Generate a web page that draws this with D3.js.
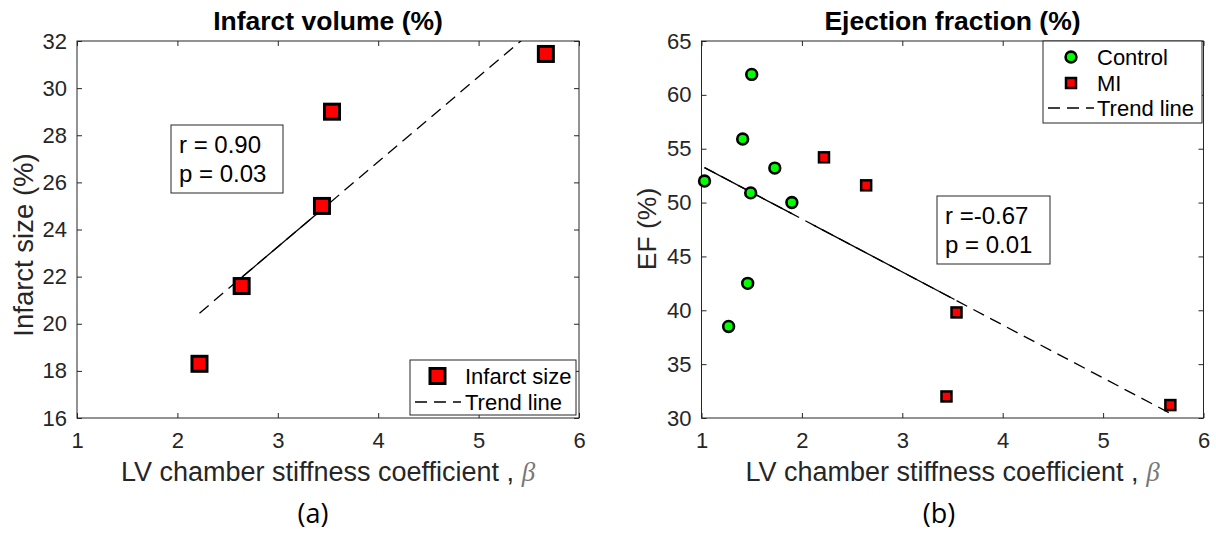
<!DOCTYPE html>
<html>
<head>
<meta charset="utf-8">
<script src="https://cdn.jsdelivr.net/npm/d3@7"></script>
<style>
  body { margin: 0; background: #fff; }
  svg { display: block; font-family: "Liberation Sans", Arial, sans-serif; }
</style>
</head>
<body>
<div id="chart"></div>
<script>
// values
const betaMI = [2.22, 2.64, 3.44, 3.54, 5.67];
const infarctMI = [18.3, 21.6, 25.0, 29.0, 31.45];
const efMI = [54.2, 51.6, 32.0, 39.8, 31.2];

const betaControl = [1.03, 1.27, 1.41, 1.46, 1.49, 1.50, 1.73, 1.90];
const efControl = [52.0, 38.5, 55.9, 42.5, 50.9, 61.9, 53.2, 50.0];

// trend line end points
const infarctTrendX = [2.22, 5.67];
const infarctTrendY = [20.45, 32.9];
const efTrendX = [1.03, 5.67];
const efTrendY = [53.25, 30.42];

// parts of the trend lines that print as solid in the original
const infarctSolid = [[2.58, 3.44]];
const efSolid = [[1.03, 1.9], [2.12, 3.52]];

const xTicks = [1, 2, 3, 4, 5, 6];
const infarctTicks = [16, 18, 20, 22, 24, 26, 28, 30, 32];
const efTicks = [30, 35, 40, 45, 50, 55, 60, 65];

const width = 1216, height = 537;
const axisColor = "#262626";
const dash = "12,7";

const svg = d3.select("#chart").append("svg")
    .attr("width", width)
    .attr("height", height);

svg.append("rect").attr("width", width).attr("height", height).attr("fill", "#fff");

function drawPanel(opt) {
    const x = d3.scaleLinear().domain([1, 6]).range([opt.left, opt.right]);
    const y = d3.scaleLinear().domain(opt.yDomain).range([418, 41]);
    const g = svg.append("g");

    // clip for lines
    svg.append("defs").append("clipPath").attr("id", opt.id + "-clip")
        .append("rect")
        .attr("x", opt.left).attr("y", 41)
        .attr("width", opt.right - opt.left).attr("height", 377);

    // box
    g.append("rect")
        .attr("x", opt.left).attr("y", 41)
        .attr("width", opt.right - opt.left).attr("height", 377)
        .attr("fill", "none").attr("stroke", axisColor).attr("stroke-width", 1);

    // axes, ticks pointing inward
    const bottom = g.append("g").attr("transform", `translate(0,418)`)
        .call(d3.axisBottom(x).tickValues(xTicks).tickSize(-5).tickPadding(14).tickFormat(d3.format("d")));
    const top = g.append("g").attr("transform", `translate(0,41)`)
        .call(d3.axisTop(x).tickValues(xTicks).tickSize(-5).tickFormat(""));
    const leftAx = g.append("g").attr("transform", `translate(${opt.left},0)`)
        .call(d3.axisLeft(y).tickValues(opt.yTicks).tickSize(-5).tickPadding(10).tickFormat(d3.format("d")));
    const rightAx = g.append("g").attr("transform", `translate(${opt.right},0)`)
        .call(d3.axisRight(y).tickValues(opt.yTicks).tickSize(-5).tickFormat(""));
    [bottom, top, leftAx, rightAx].forEach(a => {
        a.select(".domain").remove();
        a.selectAll("line").attr("stroke", axisColor);
        a.selectAll("text").attr("fill", axisColor)
            .attr("font-size", "22px")
            .attr("font-family", "Liberation Sans, Arial, sans-serif");
    });

    // title
    g.append("text")
        .attr("x", (opt.left + opt.right) / 2).attr("y", 30)
        .attr("text-anchor", "middle")
        .attr("font-weight", "bold").attr("font-size", "26.5px")
        .attr("fill", "#000")
        .text(opt.title);

    // x label
    const xl = g.append("text")
        .attr("x", (opt.left + opt.right) / 2).attr("y", 481)
        .attr("text-anchor", "middle")
        .attr("font-size", "27px").attr("fill", axisColor);
    xl.append("tspan").text("LV chamber stiffness coefficient , ");
    xl.append("tspan").attr("font-family", "Liberation Serif, serif")
        .attr("font-style", "italic").attr("fill", "#777").text("β");

    // y label
    g.append("text")
        .attr("transform", `translate(${opt.ylabelX},${opt.ylabelY}) rotate(-90)`)
        .attr("text-anchor", "middle")
        .attr("font-size", opt.ylabelSize).attr("fill", axisColor)
        .text(opt.ylabel);

    // panel tag
    g.append("text")
        .attr("x", opt.tagX).attr("y", 523)
        .attr("text-anchor", "middle")
        .attr("font-family", "Open Sans, sans-serif")
        .attr("font-size", "27px").attr("fill", "#000")
        .text(opt.tag);

    // trend line
    const line = d3.line().x(d => x(d[0])).y(d => y(d[1]));
    const trendPts = d3.zip(opt.trendX, opt.trendY);
    const lines = g.append("g").attr("clip-path", `url(#${opt.id}-clip)`);
    lines.append("path")
        .attr("d", line(trendPts))
        .attr("fill", "none").attr("stroke", "#000")
        .attr("stroke-width", 1.3).attr("stroke-dasharray", dash);
    const slope = (opt.trendY[1] - opt.trendY[0]) / (opt.trendX[1] - opt.trendX[0]);
    const at = v => opt.trendY[0] + slope * (v - opt.trendX[0]);
    opt.solid.forEach(s => {
        lines.append("path")
            .attr("d", line([[s[0], at(s[0])], [s[1], at(s[1])]]))
            .attr("fill", "none").attr("stroke", "#000").attr("stroke-width", 1.3);
    });

    // annotation box
    const ann = g.append("g");
    ann.append("rect")
        .attr("x", opt.ann.x).attr("y", opt.ann.y)
        .attr("width", opt.ann.w).attr("height", opt.ann.h)
        .attr("fill", "#fff").attr("stroke", axisColor).attr("stroke-width", 1);
    opt.ann.lines.forEach((t, i) => {
        ann.append("text")
            .attr("x", opt.ann.x + 8).attr("y", opt.ann.y + 28 + i * 29)
            .attr("font-size", "24px").attr("fill", "#000")
            .text(t);
    });

    return { g, x, y };
}

function square(g, cx, cy, size, sw) {
    g.append("rect")
        .attr("x", cx - size / 2).attr("y", cy - size / 2)
        .attr("width", size).attr("height", size)
        .attr("fill", "#ff0000").attr("stroke", "#000").attr("stroke-width", sw);
}

function circle(g, cx, cy, r) {
    g.append("circle").attr("cx", cx).attr("cy", cy).attr("r", r)
        .attr("fill", "#00ff00").attr("stroke", "#000").attr("stroke-width", 2.6);
}

// ---------- panel (a) ----------
const pa = drawPanel({
    id: "pa", left: 77, right: 579,
    yDomain: [16, 32], yTicks: infarctTicks,
    title: "Infarct volume (%)",
    ylabel: "Infarct size (%)", ylabelX: 33, ylabelY: 245, ylabelSize: "27.5px",
    tag: "(a)", tagX: 313,
    trendX: infarctTrendX, trendY: infarctTrendY, solid: infarctSolid,
    ann: { x: 171, y: 125, w: 112, h: 68, lines: ["r = 0.90", "p = 0.03"] }
});

betaMI.forEach((b, i) => square(pa.g, pa.x(b), pa.y(infarctMI[i]), 15, 3));

// legend (a)
const la = pa.g.append("g");
la.append("rect").attr("x", 410).attr("y", 360).attr("width", 166).attr("height", 55)
    .attr("fill", "#fff").attr("stroke", axisColor);
square(la, 437.5, 376, 15, 3);
la.append("text").attr("x", 465).attr("y", 384).attr("font-size", "22px").attr("fill", "#000").text("Infarct size");
la.append("line").attr("x1", 415).attr("x2", 461).attr("y1", 402).attr("y2", 402)
    .attr("stroke", "#000").attr("stroke-width", 1.3).attr("stroke-dasharray", dash);
la.append("text").attr("x", 465).attr("y", 410).attr("font-size", "22px").attr("fill", "#000").text("Trend line");

// ---------- panel (b) ----------
const pb = drawPanel({
    id: "pb", left: 701.5, right: 1203.5,
    yDomain: [30, 65], yTicks: efTicks,
    title: "Ejection fraction (%)",
    ylabel: "EF (%)", ylabelX: 656, ylabelY: 229, ylabelSize: "26.5px",
    tag: "(b)", tagX: 939,
    trendX: efTrendX, trendY: efTrendY, solid: efSolid,
    ann: { x: 937, y: 196, w: 113, h: 68, lines: ["r =-0.67", "p = 0.01"] }
});

betaControl.forEach((b, i) => circle(pb.g, pb.x(b), pb.y(efControl[i]), 5.4));
betaMI.forEach((b, i) => square(pb.g, pb.x(b), pb.y(efMI[i]), 10, 2.5));

// legend (b)
const lb = pb.g.append("g");
lb.append("rect").attr("x", 1043).attr("y", 41).attr("width", 159).attr("height", 82)
    .attr("fill", "#fff").attr("stroke", axisColor);
circle(lb, 1071, 57, 5.4);
lb.append("text").attr("x", 1097).attr("y", 65).attr("font-size", "22px").attr("fill", "#000").text("Control");
square(lb, 1071, 83, 10, 2.5);
lb.append("text").attr("x", 1097).attr("y", 91).attr("font-size", "22px").attr("fill", "#000").text("MI");
lb.append("line").attr("x1", 1048).attr("x2", 1094).attr("y1", 108).attr("y2", 108)
    .attr("stroke", "#000").attr("stroke-width", 1.3).attr("stroke-dasharray", dash);
lb.append("text").attr("x", 1097).attr("y", 116).attr("font-size", "22px").attr("fill", "#000").text("Trend line");
</script>
</body>
</html>
